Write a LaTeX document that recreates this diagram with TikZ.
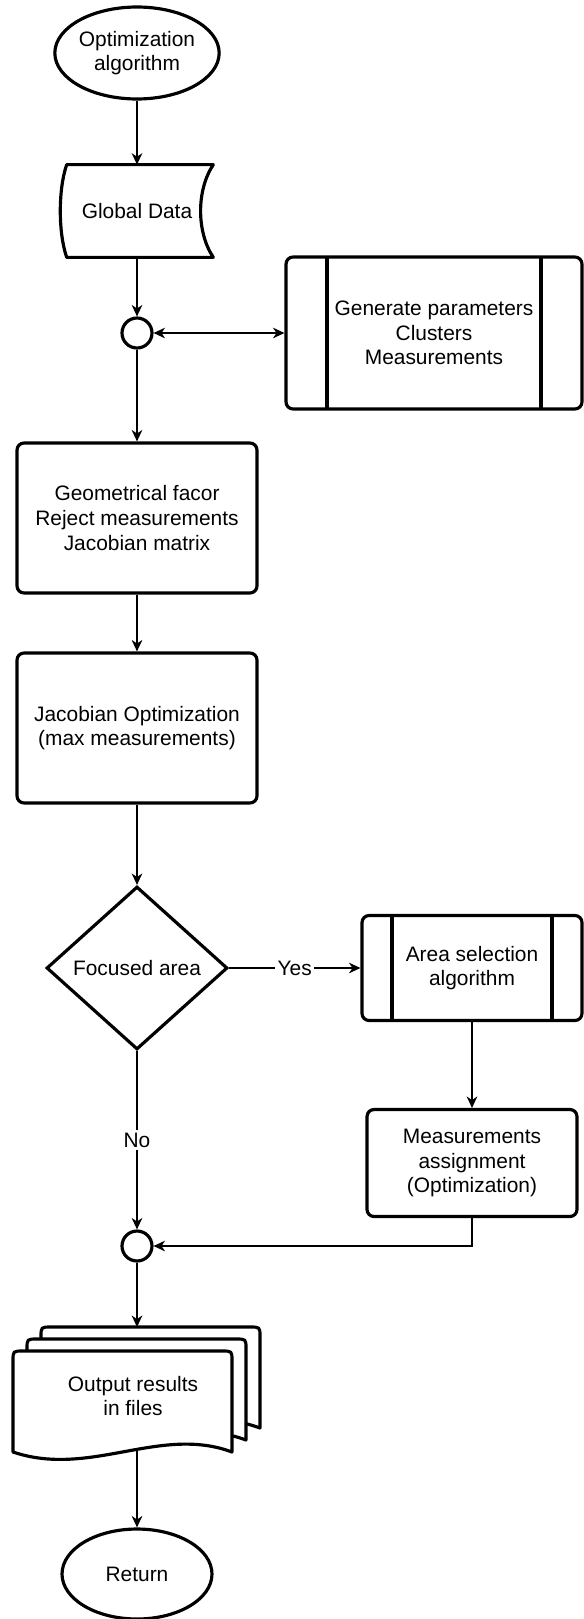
\documentclass[tikz,border=0pt]{standalone}
\usepackage{fontspec}
\setmainfont{Liberation Sans}
\usetikzlibrary{arrows.meta,shapes.geometric}
\tikzset{
    terminal/.style={
    ellipse,draw=black,line width=1.8pt,minimum width=3.04cm,minimum height=1.84cm,inner sep=0pt,align=center
    },
    stored/.style={
    rectangle,draw=none,minimum width=3.04cm,minimum height=1.84cm,align=center
    },
    procbox/.style={
    rectangle,rounded corners=4pt,draw=black,line width=1.8pt,minimum width=4.8cm,minimum height=3cm,align=center
    },
    subproc/.style={
    procbox,
    path picture={
      \draw[line width=2pt] ([xshift=#1]path picture bounding box.north west) -- ([xshift=#1]path picture bounding box.south west);
      \draw[line width=2pt] ([xshift=-#1]path picture bounding box.north east) -- ([xshift=-#1]path picture bounding box.south east);
      }
    },
    decision/.style={
    diamond,draw=black,line width=1.8pt,minimum width=3.62cm,minimum height=3.26cm,inner sep=0pt,aspect=1.1
    },
    junction/.style={
    circle,draw=black,line width=1.8pt,minimum size=0.6cm,inner sep=0pt
    },
    shapeline/.style={
    draw=black,line width=1.8pt,line join=round
    },
    conn/.style={
    line width=1pt,->
    },
    edgetext/.style={
    fill=white,inner sep=1.5pt
    },
}

\begin{document}
\begin{tikzpicture}[x=0.02cm, y=-0.02cm, font=\fontsize{11.9}{14}\selectfont,
    >={Stealth[length=6.5pt,width=6pt,inset=2pt]}]
   \useasboundingbox (0,0) rectangle (583,1619);

   \node[terminal] (start) at (137,53) {Optimization\\algorithm};
   \node[stored] (data) at (137,211) {Global Data};
   \draw[shapeline] ([xshift=0.12cm]data.north west) -- (data.north east)
      .. controls ([xshift=-0.34cm,yshift=-0.5cm]data.north east) and ([xshift=-0.34cm,yshift=0.5cm]data.south east) .. (data.south east)
      -- ([xshift=0.12cm]data.south west)
      .. controls ([xshift=-0.05cm,yshift=0.5cm]data.south west) and ([xshift=-0.05cm,yshift=-0.5cm]data.north west) .. cycle;
   \node[junction] (j1) at (137,333) {};
   \node[subproc=0.82cm,minimum width=5.92cm,minimum height=3.04cm] (gen) at (434,333) {Generate parameters\\Clusters\\Measurements};
   \node[procbox] (geo) at (137,518) {Geometrical facor\\Reject measurements\\Jacobian matrix};
   \node[procbox] (jac) at (137,728) {Jacobian Optimization\\(max measurements)};
   \node[decision] (focus) at (137,968) {Focused area};
   \node[subproc=0.6cm,minimum width=4.4cm,minimum height=2.1cm] (area) at (472,968) {Area selection\\algorithm};
   \node[procbox,minimum width=4.2cm,minimum height=2.14cm] (assign) at (472,1163) {Measurements\\assignment\\(Optimization)};
   \node[junction] (j2) at (137,1246) {};

   % stack of output files
   \foreach \dx/\dy in {28/-24, 14/-12, 0/0}
     \draw[shapeline,fill=white] ({13+\dx},{1452+\dy}) -- ({13+\dx},{1361+\dy})
       .. controls ({13+\dx},{1351+\dy}) .. ({23+\dx},{1351+\dy}) -- ({222+\dx},{1351+\dy})
       .. controls ({232+\dx},{1351+\dy}) .. ({232+\dx},{1361+\dy}) -- ({232+\dx},{1452+\dy})
       .. controls ({160+\dx},{1425+\dy}) and ({90+\dx},{1478+\dy}) .. cycle;
   \node[align=center] (files) at (133,1396) {Output results\\in files};
   \coordinate (ftop) at (137,1327);
   \coordinate (fbot) at (137,1448);
   \node[terminal,minimum width=3cm,minimum height=1.8cm] (stop) at (137,1574) {Return};

  \path[conn]
    (start) edge (data)
    (data) edge (j1)
    (j1) edge[<->] (gen)
        edge (geo)
    (geo) edge (jac)
    (jac) edge (focus)
    (focus) edge node[edgetext] {Yes} (area)
            edge node[edgetext] {No} (j2)
    (area) edge (assign)
    (j2) edge (ftop)
    (fbot) edge (stop);
  \draw[conn] (assign) |- (j2);
\end{tikzpicture}
\end{document}
